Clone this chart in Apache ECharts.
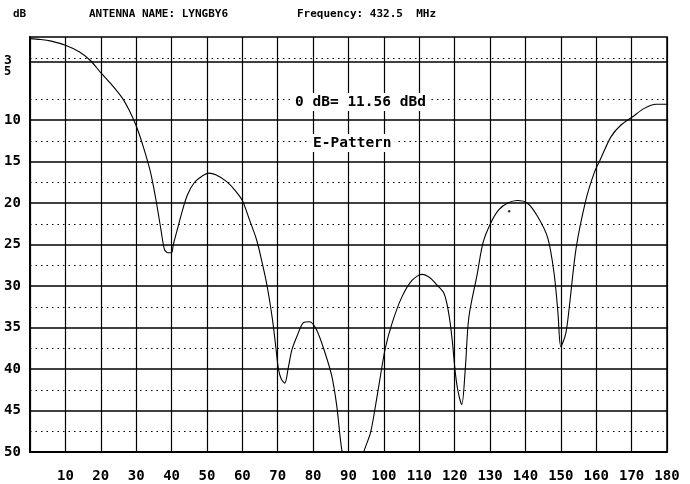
<!DOCTYPE html>
<html>
<head>
<meta charset="utf-8">
<script src="https://cdn.jsdelivr.net/npm/echarts@6/dist/echarts.min.js"></script>
<style>html,body{margin:0;padding:0;background:#fff;}#c{width:690px;height:484px;}</style>
</head>
<body>
<div id="c"></div>
<script>
// Angle (degrees) and attenuation (dB) of the E-pattern
const angles = [0,3,6,10,14,17,20,23,26,28,30,32,34,35.5,37,38,39,40,40.5,42,43,44.5,46.5,48.5,50.5,52.5,55.5,58,60,62,64,65.5,67,68.5,69.5,70.2,71,72,73,74,75.5,77.3,79,81,83.4,85.3,86.7,88.2,91,94.3,96.2,97.6,99,100.4,102.3,105,108,110.8,113,114.6,117,118.4,119.3,120.2,121,122,123,124,126.4,128,130.2,132.5,135,137.7,140.5,143.4,146.3,148.1,149.2,150,151.4,152.4,154.3,157.1,159.4,161,164.2,167,170.3,173.6,176.9,180];
const dB = [0.2,0.3,0.5,1.0,1.8,2.8,4.3,5.7,7.3,8.8,10.7,13.2,16.2,19.4,23.2,25.6,26.0,26.0,25.0,22.6,21.0,19.0,17.5,16.8,16.4,16.6,17.4,18.5,19.7,22.0,24.4,27.0,30.0,34.0,37.5,40.0,41.2,41.7,39.8,37.7,36.0,34.4,34.3,35.3,38.1,40.9,44.5,50.0,55,50.0,47.7,44.5,40.9,37.5,34.5,31.4,29.3,28.6,29.0,29.7,30.9,33.5,36.5,40.5,42.8,44.3,40.0,33.8,28.5,24.8,22.4,20.8,20.0,19.7,20.0,21.6,24.2,28.5,33.3,37.3,35.7,32.5,25.5,19.6,16.4,14.9,12.0,10.6,9.6,8.6,8.1,8.1];
const strayDot = [[135.4, 21.0]];

const xTickLabels = ['10','20','30','40','50','60','70','80','90','100','110','120','130','140','150','160','170','180'];
const yTickValues = [3,5,10,15,20,25,30,35,40,45,50];
const yTickLabels = ['3','5','10','15','20','25','30','35','40','45','50'];
const solidLines = [3,10,15,20,25,30,35,40,45];
const dottedLines = [2.5,7.5,12.5,17.5,22.5,27.5,32.5,37.5,42.5,47.5];

const FONT = 'DejaVu Sans Mono';
const chart = echarts.init(document.getElementById('c'));
const titleStyle = {fontSize: 11, fontWeight: 'bold', fontFamily: FONT, color: '#000', lineHeight: 13};
const innerStyle = {fontSize: 14.5, fontWeight: 'bold', fontFamily: FONT, color: '#000', lineHeight: 16};

chart.setOption({
  animation: false,
  backgroundColor: '#fff',
  title: [
    {text: 'dB', left: 13, top: 8, padding: 0, textStyle: titleStyle},
    {text: 'ANTENNA NAME: LYNGBY6', left: 89, top: 8, padding: 0, textStyle: titleStyle},
    {text: 'Frequency: 432.5  MHz', left: 297, top: 8, padding: 0, textStyle: titleStyle},
    {text: '0 dB= 11.56 dBd', left: 292, top: 93, padding: [1, 3], backgroundColor: '#fff', textStyle: innerStyle},
    {text: 'E-Pattern', left: 310, top: 134, padding: [1, 3], backgroundColor: '#fff', textStyle: innerStyle}
  ],
  grid: {left: 30, right: 23, top: 37, bottom: 32, show: true, borderColor: '#000', borderWidth: 1.5, backgroundColor: 'transparent'},
  xAxis: {
    type: 'value', min: 0, max: 180, interval: 10,
    axisLine: {onZero: false, lineStyle: {color: '#000', width: 2}},
    axisTick: {show: false},
    splitLine: {show: true, lineStyle: {color: '#000', width: 1.2}},
    axisLabel: {
      margin: 17, color: '#000', fontSize: 14, fontWeight: 'bold', fontFamily: FONT,
      formatter: v => { const i = Math.round(v / 10) - 1; return i >= 0 ? xTickLabels[i] : ''; }
    }
  },
  yAxis: {
    type: 'value', inverse: true, min: 0, max: 50, interval: 1,
    axisLine: {show: true, lineStyle: {color: '#000', width: 2}},
    axisTick: {show: false},
    splitLine: {show: false},
    axisLabel: {
      margin: 26, align: 'left', color: '#000', fontSize: 14, fontWeight: 'bold', fontFamily: FONT,
      formatter: v => {
        const i = yTickValues.indexOf(v);
        if (i < 0) return '';
        if (v === 3) return '{a|' + yTickLabels[i] + '}';
        if (v === 5) return '{b|' + yTickLabels[i] + '}';
        return yTickLabels[i];
      },
      rich: {
        a: {fontSize: 13, fontWeight: 'bold', fontFamily: FONT, color: '#000', padding: [0, 0, 3, 0]},
        b: {fontSize: 12, fontWeight: 'bold', fontFamily: FONT, color: '#000', padding: [0, 0, 13, 0]}
      }
    }
  },
  series: [
    {
      type: 'line', data: [], z: 1, silent: true,
      markLine: {
        silent: true, symbol: ['none', 'none'], label: {show: false}, animation: false,
        data: solidLines.map(v => ({yAxis: v, lineStyle: {color: '#000', width: 1.5, type: 'solid'}}))
          .concat(dottedLines.map(v => ({yAxis: v, lineStyle: {color: '#000', width: 1, type: [1.5, 4]}})))
      }
    },
    {
      type: 'line', z: 3, showSymbol: false, smooth: 0.3, clip: true,
      lineStyle: {color: '#000', width: 1.1},
      data: angles.map((a, i) => [a, dB[i]])
    },
    {
      type: 'scatter', z: 3, symbolSize: 2.5, itemStyle: {color: '#000'}, data: strayDot
    }
  ]
});
</script>
</body>
</html>
